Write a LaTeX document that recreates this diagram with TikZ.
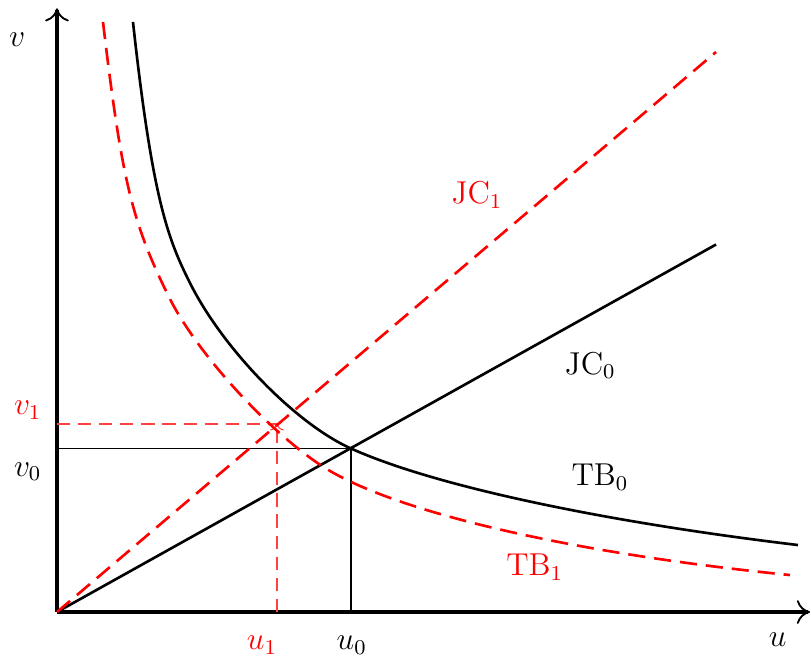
\documentclass[tikz,border=0pt]{standalone}
\usepackage{amsmath}
\usepackage{amssymb}
\usepackage{xcolor}
\usepackage{tikz}
\usetikzlibrary{arrows.meta}

\begin{document}
\begin{tikzpicture}[
		every node/.style={font=\large},
		axis/.style={line width=1.8pt,-{To[line width=0.7pt,length=5pt,width=9pt]}},
		base/.style={line width=1pt},
		shifted/.style={line width=1pt,red,dash pattern=on 6.5pt off 3.4pt},
		guide/.style={thin},
		rguide/.style={thin,red!75,dash pattern=on 5pt off 3pt}]
		\useasboundingbox (-0.76,-0.653) rectangle (10.053,8.16);
		% axes
		\coordinate (O) at (0,0);
		\coordinate (xend) at (10.04,0);
		\coordinate (yend) at (0,8.05);
		\draw[axis] (O) -- (xend);
		\draw[axis] (O) -- (yend);
		\node (u) at (9.61,-0.37) {$u$};
		\node (v) at (-0.53,7.63) {$v$};
		% equilibria
		\coordinate (E0) at (3.92,2.18);
		\coordinate (E1) at (2.933,2.507);
		\draw[guide] (O |- E0) -- (E0);
		\draw[guide] (E0 |- O) -- (E0);
		\draw[rguide] (O |- E1) -- (E1);
		\draw[rguide,->] (E1 |- O) -- (E1);
		\node (u0) at (3.93,-0.44) {$u_0$};
		\node[red] (u1) at (2.733,-0.44) {$u_1$};
		\node (v0) at (-0.39,1.87) {$v_0$};
		\node[red] (v1) at (-0.39,2.69) {$v_1$};
		% JC lines
		\coordinate (jc0end) at (8.787,4.9);
		\coordinate (jc1end) at (8.787,7.467);
		\draw[base] (O) -- (jc0end);
		\draw[shifted] (O) -- (jc1end);
		\node (JC0) at (7.11,3.29) {JC$_0$};
		\node[red] (JC1) at (5.6,5.56) {JC$_1$};
		% TB curves
		\draw[base] (1.013,7.867) .. controls (1.275,5.48) and (1.483,4.967) .. (1.773,4.387)
			.. controls (2.214,3.506) and (3.18,2.513) .. (E0)
			.. controls (5.014,1.688) and (7.219,1.212) .. (9.88,0.893);
		\draw[shifted] (0.613,7.867) .. controls (0.865,5.754) and (0.997,5.2) .. (1.493,4.2)
			.. controls (1.849,3.481) and (2.749,2.479) .. (3.493,1.973)
			.. controls (4.404,1.353) and (6.79,0.791) .. (9.773,0.493);
		\node (TB0) at (7.24,1.8) {TB$_0$};
		\node[red] (TB1) at (6.37,0.6) {TB$_1$};
	\end{tikzpicture}
\end{document}
